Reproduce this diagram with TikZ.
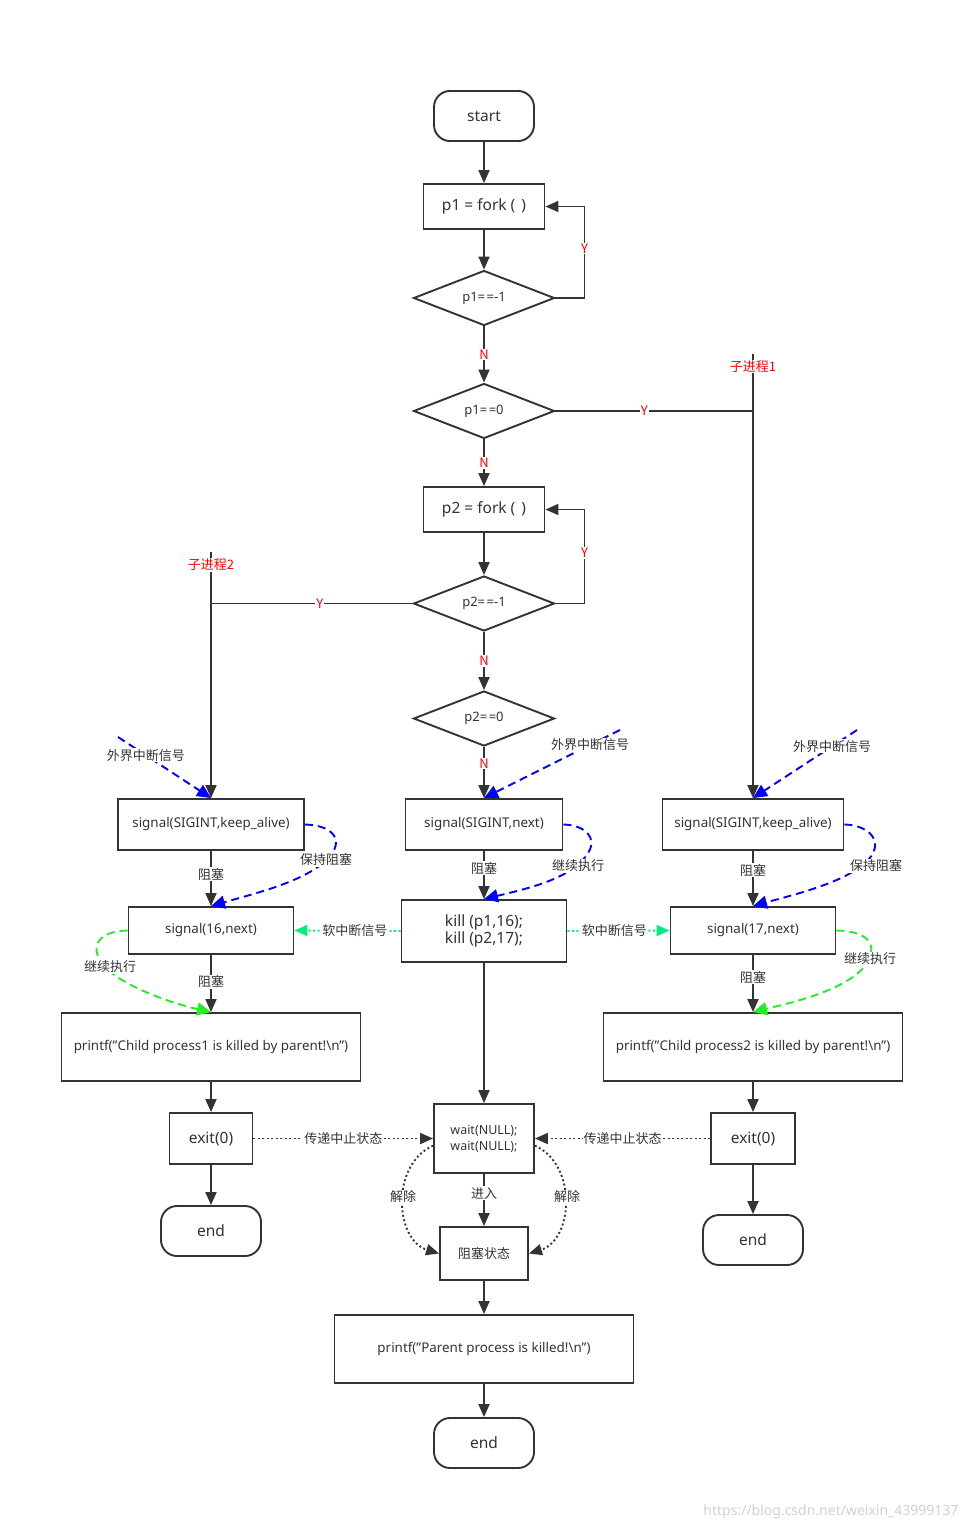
\documentclass[tikz,border=0pt]{standalone}
\usepackage{fontspec}
\setmainfont{Noto Sans}
\newfontfamily\cjk{Noto Sans CJK SC}
\usetikzlibrary{shapes.geometric,arrows.meta}
\definecolor{ln}{HTML}{333333}
\definecolor{bl}{HTML}{0000FF}
\definecolor{gr}{HTML}{22EE22}
\definecolor{tl}{HTML}{00EE80}
\newcommand{\dq}{\symbol{34}}
\newcommand{\eqq}{=\hspace{1.5pt}=}
\begin{document}
\begin{tikzpicture}[x=1pt,y=-1pt,
  box/.style={draw=ln, line width=1.9pt, rectangle, inner sep=0pt, text=ln, align=center, font=\fontsize{13.4}{15}\selectfont},
  term/.style={box, rounded corners=16pt, font=\fontsize{15.5}{18}\selectfont},
  dia/.style={draw=ln, line width=1.9pt, diamond, aspect=2.56, inner sep=0pt, minimum width=141pt, minimum height=55pt, text=ln, font=\fontsize{13}{14}\selectfont},
  arr/.style={draw=ln, line width=1.9pt, -{Triangle[length=13pt,width=11pt]}},
  plain/.style={draw=ln, line width=1.9pt},
  lbl/.style={fill=white, inner sep=1pt, text=ln, font=\cjk\fontsize{13}{15}\selectfont},
  yn/.style={lbl, text=red},
  bdash/.style={draw=bl, line width=1.9pt, dash pattern=on 8pt off 5pt, -{Triangle[length=14pt,width=13pt,fill=bl]}},
  gdash/.style={draw=gr, line width=1.9pt, dash pattern=on 8pt off 5pt, -{Triangle[length=14pt,width=13pt,fill=gr]}},
  tdot/.style={draw=tl, line width=1.9pt, dash pattern=on 1.9pt off 2.6pt, -{Triangle[length=13pt,width=11pt,fill=tl]}},
  kdot/.style={draw=ln, line width=1.9pt, dash pattern=on 1.9pt off 2.6pt, -{Triangle[length=13pt,width=11pt,fill=ln]}}
]
\useasboundingbox (0,0) rectangle (971,1530);

% main column
\node[term, minimum width=100pt, minimum height=50pt] (start) at (484,116) {start};
\node[box, minimum width=121pt, minimum height=45pt, font=\fontsize{15.5}{18}\selectfont] (p1f) at (484,206.5) {p1 = fork (\hspace{6pt})};
\node[dia] (d1) at (484,298) {p1\eqq-1};
\node[dia] (d2) at (484,411) {p1\eqq0};
\node[box, minimum width=121pt, minimum height=45pt, font=\fontsize{15.5}{18}\selectfont] (p2f) at (484,509.5) {p2 = fork (\hspace{6pt})};
\node[dia] (d3) at (484,603.5) {p2\eqq-1};
\node[dia] (d4) at (484,718.5) {p2\eqq0};
\node[box, minimum width=157pt, minimum height=51pt] (sigN) at (484,824.5) {signal(SIGINT,next)};
\node[box, minimum width=165pt, minimum height=62pt, font=\fontsize{15.5}{17}\selectfont] (kill) at (484,931) {kill (p1,16);\\kill (p2,17);};
\node[box, minimum width=100pt, minimum height=69pt, font=\fontsize{12.5}{16}\selectfont] (wait) at (484,1138.5) {wait(NULL);\\wait(NULL);};
\node[box, minimum width=88pt, minimum height=53pt, font=\cjk\fontsize{13}{14}\selectfont] (blk) at (484,1253.5) {阻塞状态};
\node[box, minimum width=299pt, minimum height=68pt] (pp) at (484,1349) {printf(\dq Parent process is killed!\textbackslash n\dq)};
\node[term, minimum width=100pt, minimum height=50pt] (endB) at (484,1443) {end};

% left column
\node[box, minimum width=186pt, minimum height=51pt] (kaL) at (211,824.5) {signal(SIGINT,keep\_alive)};
\node[box, minimum width=165pt, minimum height=47pt] (s16) at (211,930.5) {signal(16,next)};
\node[box, minimum width=299pt, minimum height=68pt] (pc1) at (211,1047) {printf(\dq Child process1 is killed by parent!\textbackslash n\dq)};
\node[box, minimum width=83pt, minimum height=51pt, font=\fontsize{15.5}{18}\selectfont] (exL) at (211,1138.5) {exit(0)};
\node[term, minimum width=100pt, minimum height=50pt] (endL) at (211,1231) {end};

% right column
\node[box, minimum width=181pt, minimum height=51pt] (kaR) at (753,824.5) {signal(SIGINT,keep\_alive)};
\node[box, minimum width=165pt, minimum height=47pt] (s17) at (753,930.5) {signal(17,next)};
\node[box, minimum width=299pt, minimum height=68pt] (pc2) at (753,1047) {printf(\dq Child process2 is killed by parent!\textbackslash n\dq)};
\node[box, minimum width=84pt, minimum height=51pt, font=\fontsize{15.5}{18}\selectfont] (exR) at (753,1138.5) {exit(0)};
\node[term, minimum width=100pt, minimum height=50pt] (endR) at (753,1240) {end};

% free-end coordinates
\coordinate (s1) at (753,354);
\coordinate (j1) at (753,411);
\coordinate (s2) at (211,552);
\coordinate (j2) at (211,603.5);
\coordinate (bL) at (118,737);
\coordinate (bM) at (620,730);
\coordinate (bR) at (857,730);

% main flow
\draw[arr] (start) -- (p1f);
\draw[arr] (p1f) -- (d1);
\draw[arr] (d1.east) -- ++(29,0) |- (p1f.east) node[yn, pos=0.27] {Y};
\draw[arr] (d1) -- (d2) node[yn, midway] {N};
\draw[arr] (d2.east) -| (kaR.north) node[yn, pos=0.225] {Y};
\draw[plain] (s1) -- (j1) node[yn, pos=0.22] {子进程1};
\draw[arr] (d2) -- (p2f) node[yn, midway] {N};
\draw[arr] (p2f) -- (d3);
\draw[arr] (d3.east) -- ++(29,0) |- (p2f.east) node[yn, pos=0.27] {Y};
\draw[arr] (d3.west) -| (kaL.north) node[yn, pos=0.23] {Y};
\draw[plain] (s2) -- (j2) node[yn, pos=0.25] {子进程2};
\draw[arr] (d3) -- (d4) node[yn, midway] {N};
\draw[arr] (d4) -- (sigN) node[yn, pos=0.32] {N};
\draw[arr] (sigN) -- (kill) node[lbl, pos=0.36] {阻塞};
\draw[arr] (kill) -- (wait);
\draw[arr] (wait) -- (blk) node[lbl, pos=0.37] {进入};
\draw[arr] (blk) -- (pp);
\draw[arr] (pp) -- (endB);

% left flow
\draw[arr] (kaL) -- (s16) node[lbl, pos=0.42] {阻塞};
\draw[arr] (s16) -- (pc1) node[lbl, pos=0.47] {阻塞};
\draw[arr] (pc1) -- (exL);
\draw[arr] (exL) -- (endL);

% right flow
\draw[arr] (kaR) -- (s17) node[lbl, pos=0.35] {阻塞};
\draw[arr] (s17) -- (pc2) node[lbl, pos=0.39] {阻塞};
\draw[arr] (pc2) -- (exR);
\draw[arr] (exR) -- (endR);

% external interrupt signals
\draw[bdash] (bL) -- (kaL.north) node[lbl, pos=0.3] {外界中断信号};
\draw[bdash] (bM) -- (sigN.north) node[lbl, pos=0.22] {外界中断信号};
\draw[bdash] (bR) -- (kaR.north) node[lbl, pos=0.24] {外界中断信号};

% blue curves
\draw[bdash] (kaL.east) .. controls (330,825) and (345,838) .. (330,856) .. controls (310,880) and (260,892) .. (s16.north);
\draw[bdash] (sigN.east) .. controls (585,825) and (598,838) .. (588,853) .. controls (573,878) and (530,888) .. (kill.north);
\draw[bdash] (kaR.east) .. controls (866,825) and (882,838) .. (872,855) .. controls (855,880) and (800,893) .. (s17.north);
\node[lbl] (lb1) at (326,860) {保持阻塞};
\node[lbl] (lb2) at (578,866) {继续执行};
\node[lbl] (lb3) at (876,866) {保持阻塞};

% green curves
\draw[gdash] (s16.west) .. controls (100,931) and (88,945) .. (103,965) .. controls (120,985) and (170,1003) .. (pc1.north);
\draw[gdash] (s17.east) .. controls (865,931) and (878,942) .. (868,962) .. controls (850,990) and (790,1003) .. (pc2.north);
\node[lbl] (lg1) at (110,967) {继续执行};
\node[lbl] (lg2) at (870,959) {继续执行};

% soft interrupts
\draw[tdot] (kill.west) -- (s16.east) node[lbl, pos=0.43] {软中断信号};
\draw[tdot] (kill.east) -- (s17.west) node[lbl, pos=0.46] {软中断信号};

% exit status
\draw[kdot] (exL.east) -- (wait.west) node[lbl, pos=0.5] {传递中止状态};
\draw[kdot] (exR.west) -- (wait.east) node[lbl, pos=0.5] {传递中止状态};

% release curves
\draw[kdot] (wait.188) .. controls (390,1165) and (395,1240) .. (blk.west);
\draw[kdot] (wait.-8) .. controls (578,1165) and (573,1240) .. (blk.east);
\node[lbl] (lr1) at (403,1197) {解除};
\node[lbl] (lr2) at (567,1197) {解除};

% watermark
\node[text=black!18, font=\fontsize{14}{16}\selectfont, anchor=east] (wm) at (962,1512) {https://blog.csdn.net/weixin\_43999137};
\end{tikzpicture}
\end{document}
